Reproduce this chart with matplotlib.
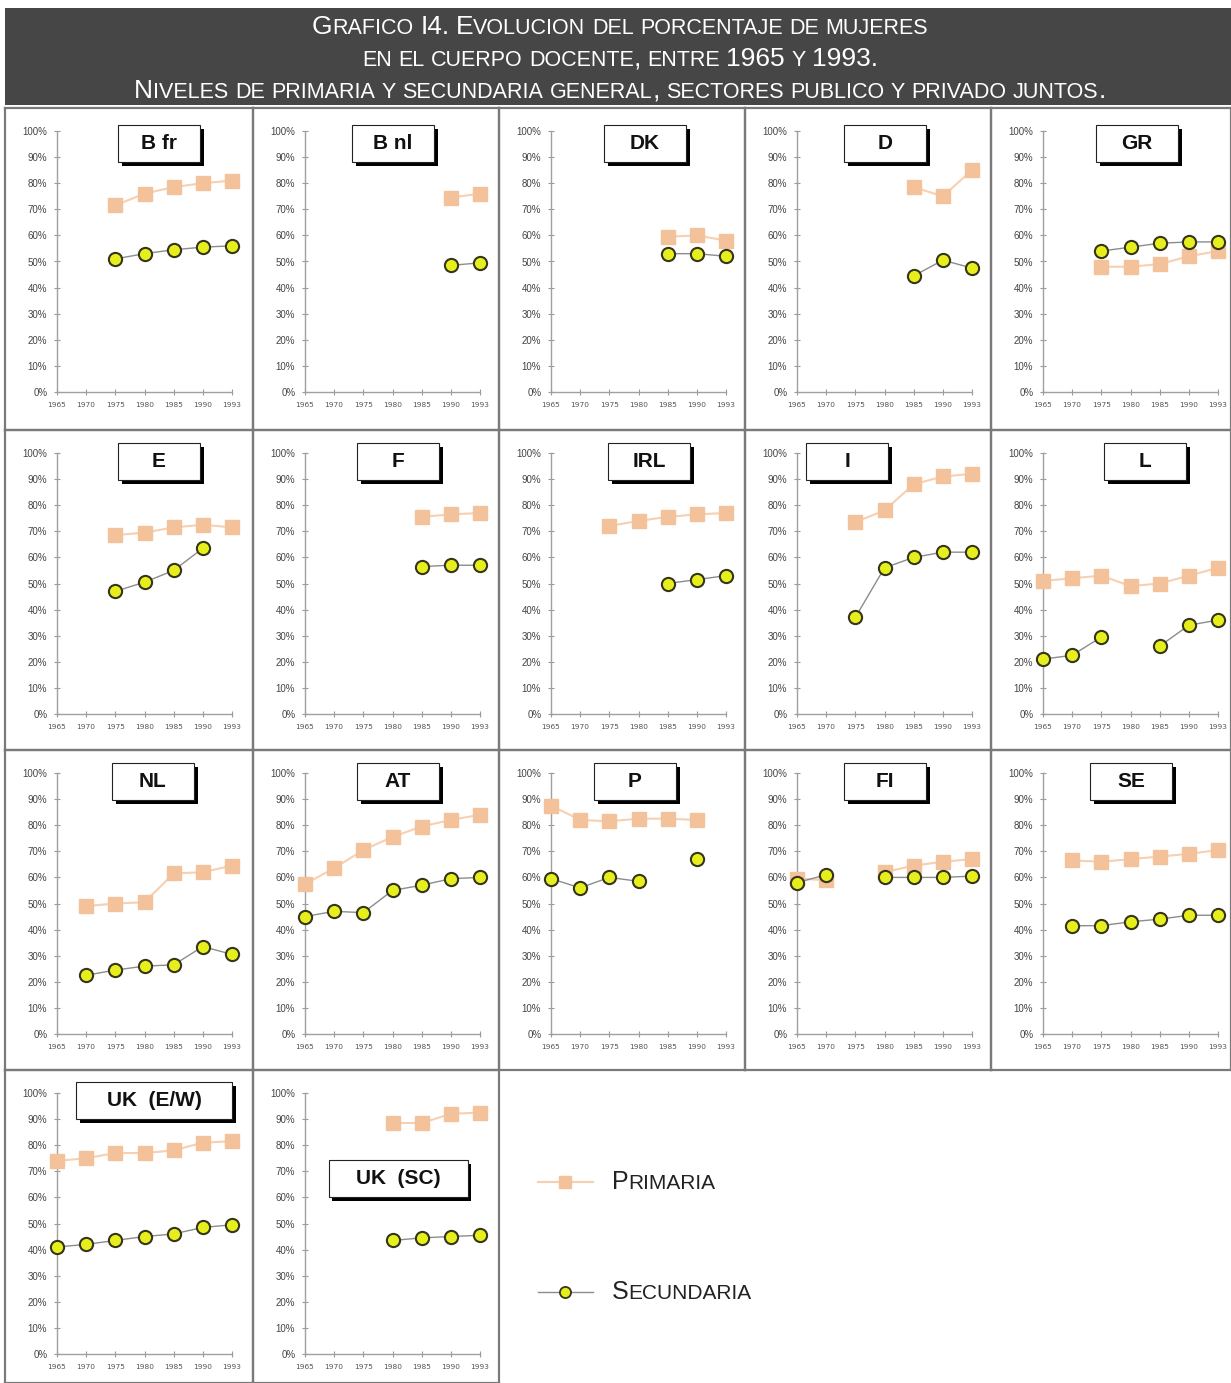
import matplotlib
matplotlib.use('Agg')
import matplotlib.pyplot as plt
from matplotlib.patches import Rectangle
from matplotlib.lines import Line2D
from matplotlib.offsetbox import TextArea, HPacker, AnnotationBbox

nan = float('nan')

years = ['1965', '1970', '1975', '1980', '1985', '1990', '1993']
countries = ['B fr', 'B nl', 'DK', 'D', 'GR',
             'E', 'F', 'IRL', 'I', 'L',
             'NL', 'AT', 'P', 'FI', 'SE',
             'UK  (E/W)', 'UK  (SC)']

# % of women teachers, primary level
primaria = {
    'B fr': [nan, nan, 71.5, 76, 78.5, 80, 81],
    'B nl': [nan, nan, nan, nan, nan, 74.5, 76],
    'DK': [nan, nan, nan, nan, 59.5, 60, 58],
    'D': [nan, nan, nan, nan, 78.5, 75, 85],
    'GR': [nan, nan, 48, 48, 49, 52, 54],
    'E': [nan, nan, 68.5, 69.5, 71.5, 72.5, 71.5],
    'F': [nan, nan, nan, nan, 75.5, 76.5, 77],
    'IRL': [nan, nan, 72, 74, 75.5, 76.5, 77],
    'I': [nan, nan, 73.5, 78, 88, 91, 92],
    'L': [51, 52, 53, 49, 50, 53, 56],
    'NL': [nan, 49, 50, 50.5, 61.5, 62, 64.5],
    'AT': [57.5, 63.5, 70.5, 75.5, 79.5, 82, 84],
    'P': [87.5, 82, 81.5, 82.5, 82.5, 82, nan],
    'FI': [59.5, 59, nan, 62, 64.5, 66, 67],
    'SE': [nan, 66.5, 66, 67, 68, 69, 70.5],
    'UK  (E/W)': [74, 75, 77, 77, 78, 81, 81.5],
    'UK  (SC)': [nan, nan, nan, 88.5, 88.5, 92, 92.5],
}

# % of women teachers, general secondary level
secundaria = {
    'B fr': [nan, nan, 51, 53, 54.5, 55.5, 56],
    'B nl': [nan, nan, nan, nan, nan, 48.5, 49.5],
    'DK': [nan, nan, nan, nan, 53, 53, 52],
    'D': [nan, nan, nan, nan, 44.5, 50.5, 47.5],
    'GR': [nan, nan, 54, 55.5, 57, 57.5, 57.5],
    'E': [nan, nan, 47, 50.5, 55, 63.5, nan],
    'F': [nan, nan, nan, nan, 56.5, 57, 57],
    'IRL': [nan, nan, nan, nan, 50, 51.5, 53],
    'I': [nan, nan, 37, 56, 60, 62, 62],
    'L': [21, 22.5, 29.5, nan, 26, 34, 36],
    'NL': [nan, 22.5, 24.5, 26, 26.5, 33.5, 30.5],
    'AT': [45, 47, 46.5, 55, 57, 59.5, 60],
    'P': [59.5, 56, 60, 58.5, nan, 67, nan],
    'FI': [58, 61, nan, 60, 60, 60, 60.5],
    'SE': [nan, 41.5, 41.5, 43, 44, 45.5, 45.5],
    'UK  (E/W)': [41, 42, 43.5, 45, 46, 48.5, 49.5],
    'UK  (SC)': [nan, nan, nan, 43.5, 44.5, 45, 45.5],
}

title_lines = ['Grafico I4. Evolucion del porcentaje de mujeres',
               'en el cuerpo docente, entre 1965 y 1993.',
               'Niveles de primaria y secundaria general, sectores publico y privado juntos.']

# layout (pixels)
W, H = 1231, 1383
col_left = [5, 253, 499, 745, 991]
col_right = [253, 499, 745, 991, 1231]
row_top = [108, 430, 750, 1070]
row_bot = [430, 750, 1070, 1383]
label_cx = [154, 140, 146, 140, 146, 154, 145, 150, 102, 154,
            148, 145, 136, 140, 140, 149, 145]
label_top = [17, 17, 17, 17, 17, 13, 13, 13, 13, 13,
             13, 13, 13, 13, 13, 12, 90]
label_w = [82] * 15 + [156, 139]

C_PRIM = '#f3c29b'
C_PRIM_LINE = '#f6d0b0'
C_SEC = '#e6ef1c'
TITLE_FONT = ['Liberation Sans Narrow', 'Liberation Sans', 'DejaVu Sans']


def fx(x):
    return x / W


def fy(y):
    return 1 - y / H


def small_caps(s, big, small, color, family, weight='normal'):
    words = []
    for word in s.split(' '):
        runs = []
        for ch in word:
            sm = ch.islower()
            if runs and runs[-1][1] == sm:
                runs[-1][0] += ch.upper()
            else:
                runs.append([ch.upper(), sm])
        areas = [TextArea(t, textprops=dict(fontsize=small if sm else big, color=color,
                                            family=family, fontweight=weight))
                 for t, sm in runs]
        words.append(HPacker(children=areas, pad=0, sep=0, align='baseline'))
    return HPacker(children=words, pad=0, sep=small * 0.3, align='baseline')


fig = plt.figure(figsize=(W / 100, H / 100), dpi=100)
fig.patch.set_facecolor('white')

# title banner
fig.add_artist(Rectangle((fx(5), fy(105)), fx(W - 5), 97 / H, transform=fig.transFigure,
                         facecolor='#464646', edgecolor='none'))
for i, line in enumerate(title_lines):
    box = small_caps(line, 19, 15.5, 'white', TITLE_FONT)
    ab = AnnotationBbox(box, (620, H - (27 + 32 * i)), xycoords='figure pixels',
                        box_alignment=(0.5, 0.5), frameon=False, pad=0)
    fig.add_artist(ab)

for i, name in enumerate(countries):
    r, c = divmod(i, 5)
    pl, pt = col_left[c], row_top[r]
    left, right = pl + 52, pl + 227
    top, bottom = pt + 23, pt + 284
    ax = fig.add_axes([fx(left), fy(bottom), (right - left) / W, (bottom - top) / H])
    x = range(len(years))
    ax.plot(x, primaria[name], color=C_PRIM_LINE, lw=1.5, marker='s', ms=10,
            mfc=C_PRIM, mec=C_PRIM, clip_on=False, zorder=3)
    ax.plot(x, secundaria[name], color='#8c8c8c', lw=1, marker='o', ms=9.5,
            mfc=C_SEC, mec='#35351c', mew=1.5, clip_on=False, zorder=4)
    ax.set_xlim(0, 6)
    ax.set_ylim(0, 100)
    ax.set_xticks(list(x))
    ax.set_xticklabels(years, fontsize=5.3, color='#555555')
    ax.set_yticks(range(0, 101, 10))
    ax.set_yticklabels([f'{v}%' for v in range(0, 101, 10)], fontsize=7,
                       color='#444444', family='Liberation Sans')
    for s in ['top', 'right']:
        ax.spines[s].set_visible(False)
    for s in ['left', 'bottom']:
        ax.spines[s].set_color('#a0a0a0')
        ax.spines[s].set_linewidth(1)
    ax.tick_params(direction='inout', length=4, width=0.8, color='#999999', pad=5)
    ax.patch.set_alpha(0)

    # panel frame
    pr, pb = col_right[c], row_bot[r]
    for xs, ys in [([pl, pr], [pt, pt]), ([pl, pr], [pb, pb]),
                   ([pl, pl], [pt, pb]), ([pr, pr], [pt, pb])]:
        fig.add_artist(Line2D([fx(v) for v in xs], [fy(v) for v in ys],
                              transform=fig.transFigure, color='#7a7a7a', lw=1.6))

    # country label box with shadow
    bw, bh = label_w[i], 37
    bx, by = pl + label_cx[i] - bw / 2, pt + label_top[i]
    fig.add_artist(Rectangle((fx(bx + 4), fy(by + bh + 4)), bw / W, bh / H,
                             transform=fig.transFigure, facecolor='black', edgecolor='none'))
    fig.add_artist(Rectangle((fx(bx), fy(by + bh)), bw / W, bh / H,
                             transform=fig.transFigure, facecolor='white',
                             edgecolor='#222222', lw=0.8))
    fig.text(fx(bx + bw / 2), fy(by + bh / 2), name, ha='center', va='center',
             fontsize=15, fontweight='bold', family='Liberation Sans', color='#111111')

# legend
legend_items = [('Primaria', 1182, dict(color=C_PRIM_LINE, lw=1.5, marker='s', ms=9,
                                        mfc=C_PRIM, mec=C_PRIM)),
                ('Secundaria', 1292, dict(color='#8c8c8c', lw=1, marker='o', ms=8,
                                          mfc=C_SEC, mec='#35351c', mew=1.3))]
for text, ly, style in legend_items:
    fig.add_artist(Line2D([fx(538), fx(593)], [fy(ly), fy(ly)], transform=fig.transFigure,
                          color=style['color'], lw=style['lw']))
    pstyle = {k: v for k, v in style.items() if k not in ('color', 'lw')}
    fig.add_artist(Line2D([fx(565)], [fy(ly)], transform=fig.transFigure, ls='none', **pstyle))
    box = small_caps(text, 18, 15, '#222222', ['Liberation Sans'])
    fig.add_artist(AnnotationBbox(box, (612, H - ly), xycoords='figure pixels',
                                  box_alignment=(0, 0.5), frameon=False, pad=0))

fig.savefig('out.png', dpi=100)
